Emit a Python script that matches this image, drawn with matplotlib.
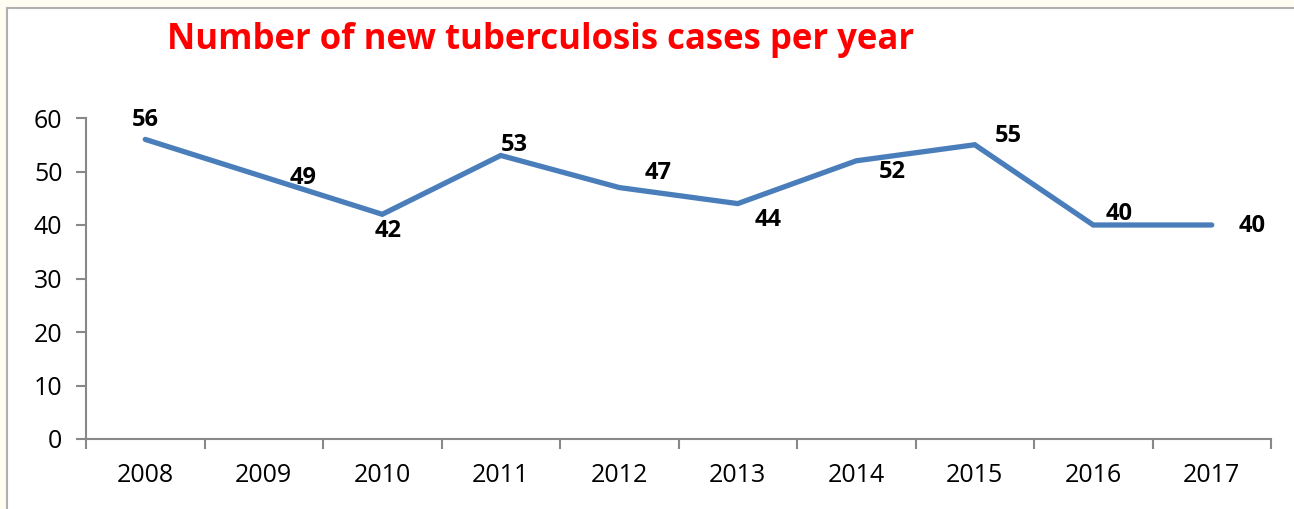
import numpy as np
import matplotlib.pyplot as plt
from matplotlib.patches import Rectangle
from matplotlib.ticker import FixedLocator

plt.rcParams['font.family'] = ['Open Sans', 'DejaVu Sans']

years = ['2008', '2009', '2010', '2011', '2012', '2013', '2014', '2015', '2016', '2017']
cases = [56, 49, 42, 53, 47, 44, 52, 55, 40, 40]

# label offsets in pixels (dx, dy) relative to each point
label_offsets = [(0, 19), (39, -1), (6, -17), (14, 10), (39, 15),
                 (30, -16), (36, -11), (34, 9), (26, 11), (40, -1)]


def main():
    fig = plt.figure(figsize=(12.94, 5.09), dpi=100)
    fig.patch.set_facecolor('#fffdf2')
    # white chart area with thin gray frame
    frame = Rectangle((7 / 1294, -0.05), 1.1, 1 - 8 / 509 + 0.05,
                      transform=fig.transFigure, facecolor='white',
                      edgecolor='#b0b0b0', linewidth=1.5, zorder=-1)
    fig.add_artist(frame)

    ax = fig.add_axes([86 / 1294, 1 - 439 / 509, (1271 - 86) / 1294, (439 - 118) / 509])
    ax.set_zorder(2)
    ax.set_facecolor('none')
    x = np.arange(len(years))
    ax.plot(x, cases, color='#4a7ebb', linewidth=3.8, solid_capstyle='round',
            solid_joinstyle='miter', clip_on=False)

    for xi, v, (dx, dy) in zip(x, cases, label_offsets):
        ax.annotate(str(v), (xi, v), xytext=(dx, dy), textcoords='offset pixels',
                    ha='center', va='center', fontsize=17, fontweight='bold')

    ax.set_xlim(-0.5, len(years) - 0.5)
    ax.set_ylim(0, 60)
    ax.set_yticks(np.arange(0, 61, 10))
    ax.set_xticks(x)
    ax.set_xticklabels(years)
    ax.xaxis.set_minor_locator(FixedLocator(np.arange(-0.5, len(years), 1.0)))
    ax.tick_params(axis='x', which='major', length=0, pad=17, labelsize=18)
    ax.tick_params(axis='x', which='minor', length=7, width=1.5, color='#888888', direction='out')
    ax.tick_params(axis='y', length=7, width=1.5, color='#888888', pad=10, labelsize=18)

    for side in ['top', 'right']:
        ax.spines[side].set_visible(False)
    for side in ['left', 'bottom']:
        ax.spines[side].set_color('#888888')
        ax.spines[side].set_linewidth(1.5)

    fig.text(541 / 1294, 1 - 40 / 509, 'Number of new tuberculosis cases per year',
             color='#ff0000', fontsize=25, fontweight='bold', ha='center', va='center')

    fig.savefig('out.png', dpi=100, facecolor=fig.get_facecolor())


if __name__ == '__main__':
    main()
